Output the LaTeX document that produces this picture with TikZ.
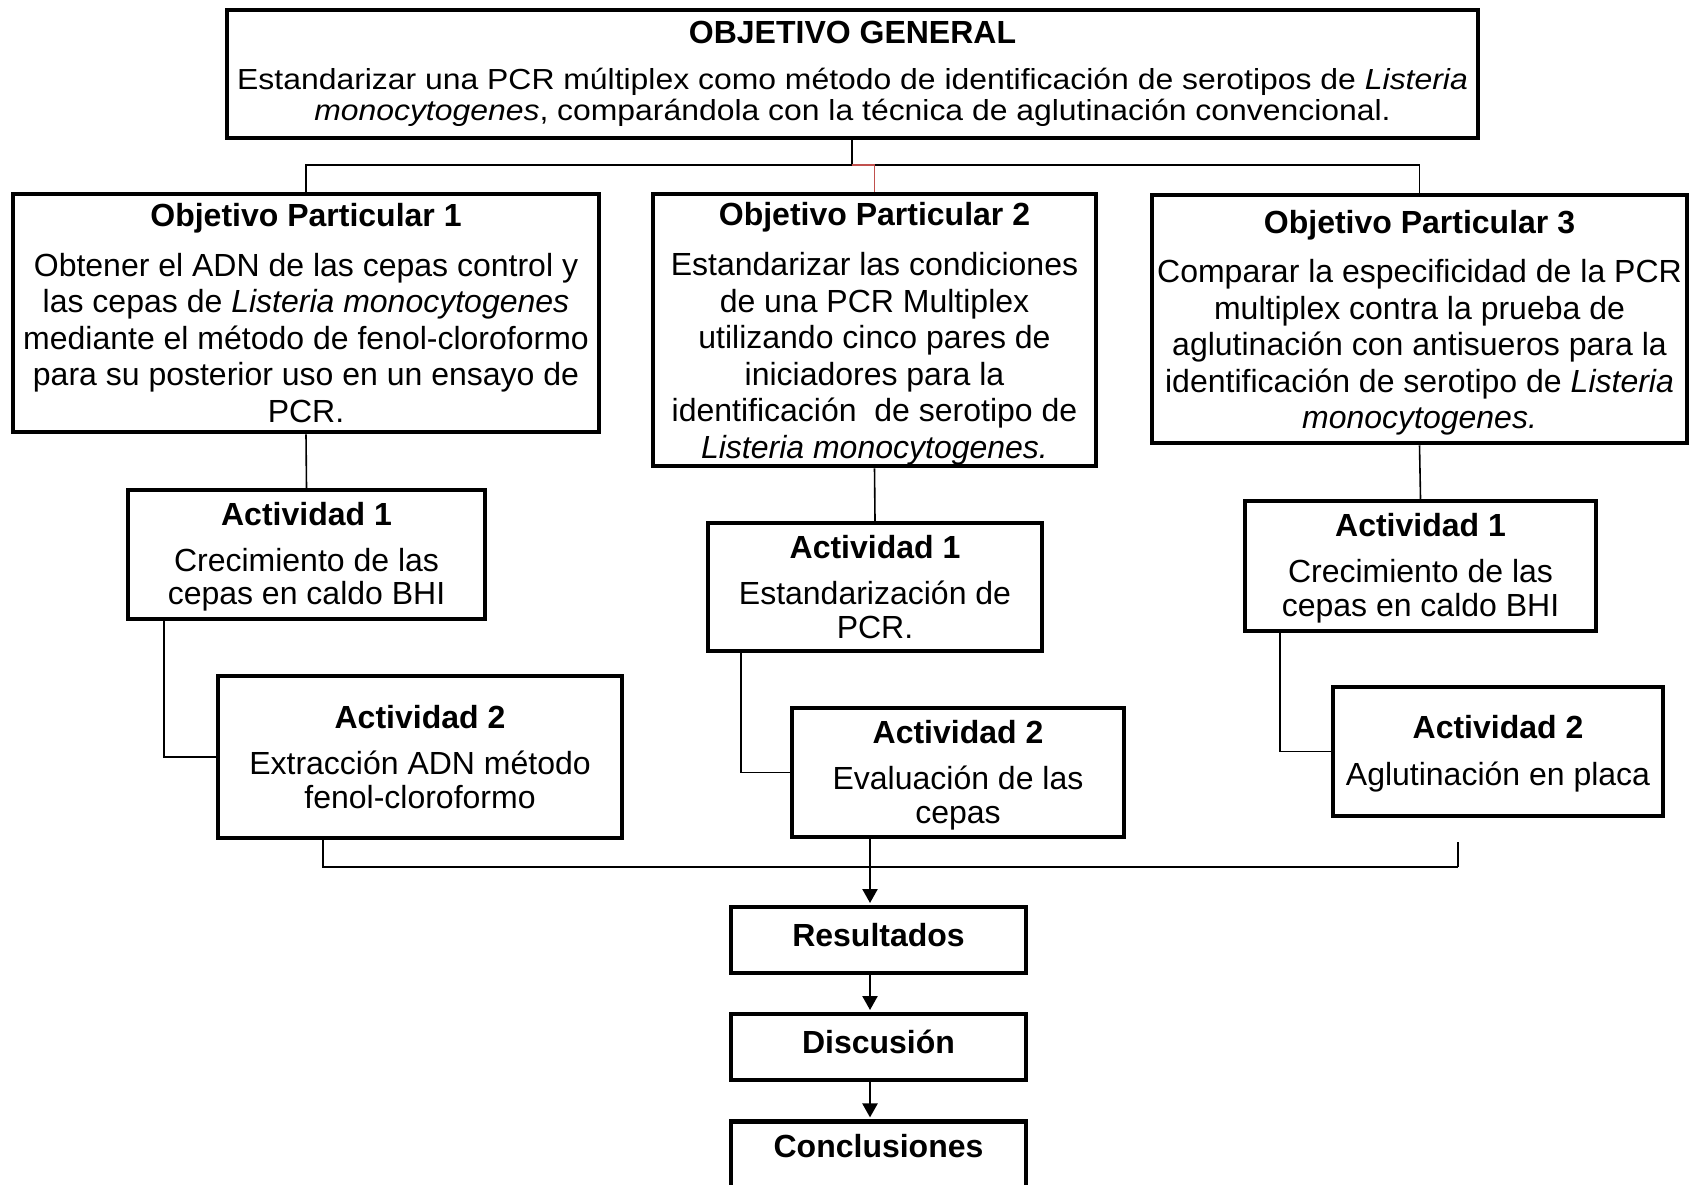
\documentclass[tikz,border=0pt]{standalone}
\usepackage{fontspec}
\setmainfont{Liberation Sans}
\newfontfamily\genfont[FakeStretch=1.1]{Liberation Sans}
\newfontfamily\plainfont{Liberation Sans}
\usetikzlibrary{arrows.meta}
\definecolor{linkred}{RGB}{192,80,77}
\newcommand{\tallstrut}[1]{\rule{0pt}{#1}}
\begin{document}
\begin{tikzpicture}[x=0.5pt,y=-0.5pt]
\tikzset{
  box/.style={draw, line width=2.25pt, rectangle, align=center, inner sep=2pt,
    font=\fontsize{16}{18.3}\selectfont},
  actbox/.style={box, font=\fontsize{16}{16.7}\selectfont},
  endbox/.style={box, line width=2.4pt, minimum width=147.5pt, minimum height=33pt, text depth=5pt},
  conn/.style={line width=0.8pt},
  arr/.style={line width=1.2pt, -{Triangle[width=7.5pt,length=7pt]}, shorten >=0.8pt},
}
\useasboundingbox (0,0) rectangle (1690,1184);
\fill[white] (0,0) rectangle (1690,1184);

% general objective
\node[box, minimum width=625.5pt, minimum height=64pt,
      font=\genfont\fontsize{14.5}{15.5}\selectfont] (gen) at (852.5,74)
  {{\plainfont\bfseries\fontsize{16}{17.5}\selectfont OBJETIVO GENERAL}\\[7.5pt]
   Estandarizar una PCR múltiplex como método de identificación de serotipos de \textit{Listeria}\\
   \textit{monocytogenes}, comparándola con la técnica de aglutinación convencional.};

% particular objectives
\node[box, minimum width=293pt, minimum height=119pt] (op1) at (306,313)
  {\textbf{Objetivo Particular 1}\\[6.5pt]
   Obtener el ADN de las cepas control y\\
   las cepas de \textit{Listeria monocytogenes}\\
   mediante el método de fenol-cloroformo\\
   para su posterior uso en un ensayo de\\
   PCR.};
\node[box, inner ysep=0pt, minimum width=221.5pt, minimum height=136pt] (op2) at (874.5,330)
  {\tallstrut{15.5pt}\textbf{Objetivo Particular 2}\\[6.5pt]
   Estandarizar las condiciones\\
   de una PCR Multiplex\\
   utilizando cinco pares de\\
   iniciadores para la\\
   identificación\ \ de serotipo de\\
   \textit{Listeria monocytogenes.}};
\node[box, minimum width=267.5pt, minimum height=124pt] (op3) at (1419.5,319)
  {\tallstrut{15.5pt}\textbf{Objetivo Particular 3}\\[6.3pt]
   Comparar la especificidad de la PCR\\
   multiplex contra la prueba de\\
   aglutinación con antisueros para la\\
   identificación de serotipo de \textit{Listeria}\\
   \textit{monocytogenes.}};

% activities
\node[actbox, minimum width=178.5pt, minimum height=64.5pt] (a11) at (306.5,554.5)
  {\tallstrut{13.8pt}\textbf{Actividad 1}\\[6.5pt] Crecimiento de las\\ cepas en caldo BHI};
\node[actbox, minimum width=202pt, minimum height=81pt] (a21) at (420,757)
  {\textbf{Actividad 2}\\[6.5pt] Extracción ADN método\\ fenol-cloroformo};
\node[actbox, minimum width=167pt, minimum height=64pt] (a12) at (875,587)
  {\textbf{Actividad 1}\\[6.5pt] Estandarización de\\ PCR.};
\node[actbox, minimum width=166pt, minimum height=64.5pt] (a22) at (958,772.5)
  {\tallstrut{14pt}\textbf{Actividad 2}\\[6.5pt] Evaluación de las\\ cepas};
\node[actbox, minimum width=175.5pt, minimum height=65pt] (a13) at (1420.5,566)
  {\tallstrut{13.8pt}\textbf{Actividad 1}\\[6.5pt] Crecimiento de las\\ cepas en caldo BHI};
\node[actbox, minimum width=165pt, minimum height=64.5pt] (a23) at (1498,751.5)
  {\tallstrut{13.8pt}\textbf{Actividad 2}\\[6.5pt] Aglutinación en placa};

% final chain
\node[endbox] (res) at (878.5,940) {\textbf{Resultados}};
\node[endbox] (dis) at (878.5,1047) {\textbf{Discusión}};
\node[endbox, minimum height=45pt, text depth=21pt, anchor=north] (con) at (878.5,1119) {\textbf{Conclusiones}};

% helper coordinates
\coordinate (hub) at (852,165);
\coordinate (xa) at (164,0);
\coordinate (xb) at (741,0);
\coordinate (xc) at (1280,0);
\coordinate (xl) at (323,0);
\coordinate (xr) at (1458,0);
\coordinate (jn) at (870,867);
\coordinate (tickR) at (1458,842);

% connectors
\draw[conn] (gen.south -| hub) -- (hub);
\draw[conn] (op1.north) -- (op1.north |- hub) -- (op3.north |- hub) -- (op3.north);
\draw[conn, linkred] (hub) -| (op2.north);
\draw[conn] (op1.south) -- (a11.north);
\draw[conn] (op2.south) -- (a12.north);
\draw[conn] (op3.south) -- (a13.north);
\draw[conn] (a11.south -| xa) |- (a21.west);
\draw[conn] (a12.south -| xb) |- (a22.west);
\draw[conn] (a13.south -| xc) |- (a23.west);
\draw[line width=1pt] (a21.south -| xl) -- (xl |- jn) -- (xr |- jn);
\draw[line width=1.2pt] (tickR) -- (xr |- jn);
\draw[line width=1.2pt] (a22.south -| jn) -- (jn);
\draw[arr] (jn) -- (jn |- res.north);
\draw[arr] (res.south -| jn) -- (dis.north -| jn);
\draw[arr] (dis.south -| jn) -- (con.north -| jn);
\end{tikzpicture}
\end{document}
